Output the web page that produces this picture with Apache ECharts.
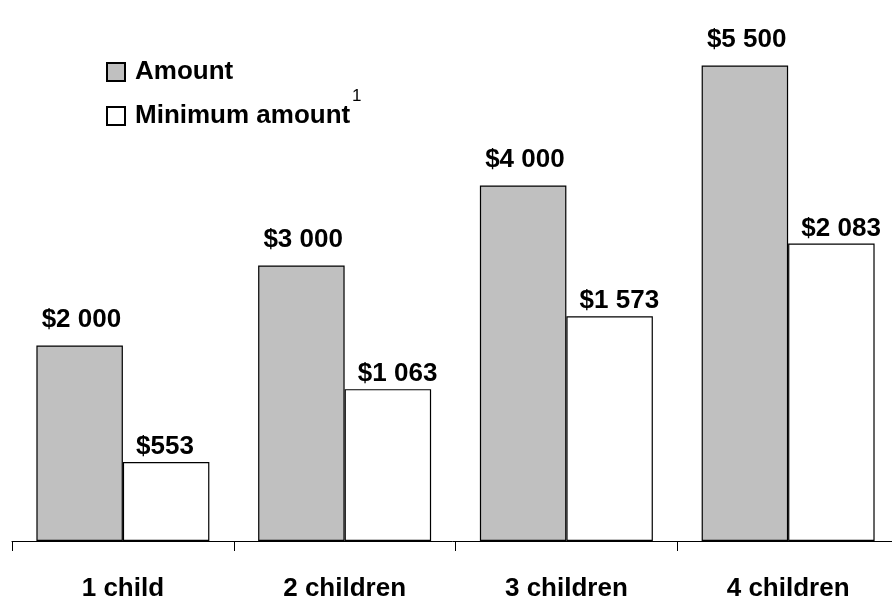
<!DOCTYPE html>
<html>
<head>
<meta charset="utf-8">
<script src="https://cdn.jsdelivr.net/npm/echarts@6/dist/echarts.min.js"></script>
<style>
  html, body { margin: 0; padding: 0; background: #fff; }
  #chart { width: 892px; height: 598px; }
</style>
</head>
<body>
<div id="chart"></div>
<script>
const categories = ['1 child', '2 children', '3 children', '4 children'];
const amount = [2000, 3000, 4000, 5500];
const minimumAmount = [553, 1063, 1573, 2083];
const seriesNames = ['Amount', 'Minimum amount'];
const footnoteMark = '1';

const FONT = "'Liberation Sans', Arial, sans-serif";

function money(v) {
  return '$' + String(v).replace(/\B(?=(\d{3})+(?!\d))/g, ' ');
}

const chart = echarts.init(document.getElementById('chart'), null, { renderer: 'canvas' });

chart.setOption({
  animation: false,
  backgroundColor: '#ffffff',
  textStyle: { fontFamily: FONT },
  grid: { left: 12, right: -7, top: 41, bottom: 57, containLabel: false, outerBoundsMode: 'none' },
  legend: {
    orient: 'vertical',
    left: 106,
    top: 59,
    padding: 0,
    itemWidth: 18,
    itemHeight: 18,
    itemGap: 18,
    icon: 'rect',
    data: seriesNames,
    textStyle: { fontFamily: FONT, fontSize: 26, fontWeight: 'bold', color: '#000', padding: [0, 0, 0, 5] }
  },
  xAxis: {
    type: 'category',
    data: categories,
    axisLine: { show: true, onZero: false, lineStyle: { color: '#000', width: 1 } },
    axisTick: { show: true, length: 10, alignWithLabel: false, interval: 0, lineStyle: { color: '#000', width: 1 } },
    axisLabel: { margin: 35, fontFamily: FONT, fontSize: 26, fontWeight: 'bold', color: '#000', interval: 0 },
    splitLine: { show: false }
  },
  yAxis: [
    { type: 'value', min: -444, max: 5806, startValue: -444, show: false, splitLine: { show: false } },
    { type: 'value', min: 0, max: 3500, show: false, splitLine: { show: false } }
  ],
  series: [
    {
      name: seriesNames[0],
      type: 'bar',
      yAxisIndex: 0,
      data: amount,
      barGap: '0%',
      barCategoryGap: '22%',
      itemStyle: { color: '#c0c0c0', borderColor: '#000', borderWidth: 1.2 },
      label: {
        show: true, position: 'top', distance: 13, align: 'left', offset: [-38, 0],
        formatter: p => money(p.value),
        fontFamily: FONT, fontSize: 26, fontWeight: 'bold', color: '#000'
      }
    },
    {
      name: seriesNames[1],
      type: 'bar',
      yAxisIndex: 1,
      data: minimumAmount,
      barGap: '0%',
      barCategoryGap: '22%',
      itemStyle: { color: '#ffffff', borderColor: '#000', borderWidth: 1.2 },
      label: {
        show: true, position: 'top', distance: 2, align: 'left', offset: [-30, 0],
        formatter: p => money(p.value),
        fontFamily: FONT, fontSize: 26, fontWeight: 'bold', color: '#000'
      }
    }
  ],
  graphic: [
    {
      type: 'text', left: 352, top: 88,
      style: { text: footnoteMark, fontFamily: FONT, fontSize: 17, fill: '#000' }
    }
  ]
});
</script>
</body>
</html>
